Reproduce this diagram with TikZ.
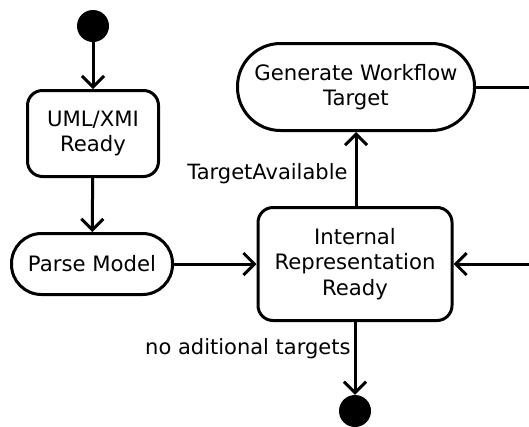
\documentclass[tikz,border=0pt]{standalone}
\usepackage{fontspec}
\setmainfont{DejaVu Sans}
\usetikzlibrary{arrows.meta}
\begin{document}
\begin{tikzpicture}[x=1pt,y=1pt,
  every node/.style={font=\fontsize{21.2}{25.5}\selectfont},
  state/.style={draw, line width=3pt, align=center, inner sep=0pt, fill=white},
  dot/.style={circle, fill=black, draw=none, minimum size=32pt, inner sep=0pt},
  arr/.style={line width=3pt, -{Straight Barb[length=11pt,width=22pt,line width=3pt]}},
  ln/.style={line width=3pt},
  lbl/.style={font=\fontsize{21}{25}\selectfont, inner sep=1pt}]
\useasboundingbox (0,0) rectangle (529,-426);
\node[dot] (start) at (93,-26) {};
\node[state, rounded corners=15pt, minimum width=131pt, minimum height=86pt] (uml) at (93,-133.5) {UML/XMI\\Ready};
\node[state, rounded corners=30pt, minimum width=161pt, minimum height=61pt] (parse) at (92,-264) {Parse Model};
\node[state, rounded corners=15pt, minimum width=194pt, minimum height=113pt] (int) at (355,-264) {Internal\\Representation\\Ready};
\node[state, rounded corners=43pt, minimum width=237pt, minimum height=87pt] (gen) at (356,-87) {Generate Workflow\\Target};
\node[dot] (end) at (355,-411) {};
\coordinate (r1) at (530,-264);
\coordinate (r2) at (530,-87);
\draw[arr] (start) -- (uml);
\draw[arr] (uml) -- (parse);
\draw[arr] (parse) -- (int);
\draw[arr] (r1) -- (int);
\draw[ln] (gen) -- (r2);
\draw[arr] (int.north -| gen.south) -- node[lbl, anchor=east, pos=0.43, xshift=-6pt] (ta) {TargetAvailable} (gen.south);
\draw[arr] (int.south) -- node[lbl, anchor=east, pos=0.36, xshift=-2pt] (na) {no aditional targets} (end);
\end{tikzpicture}
\end{document}
